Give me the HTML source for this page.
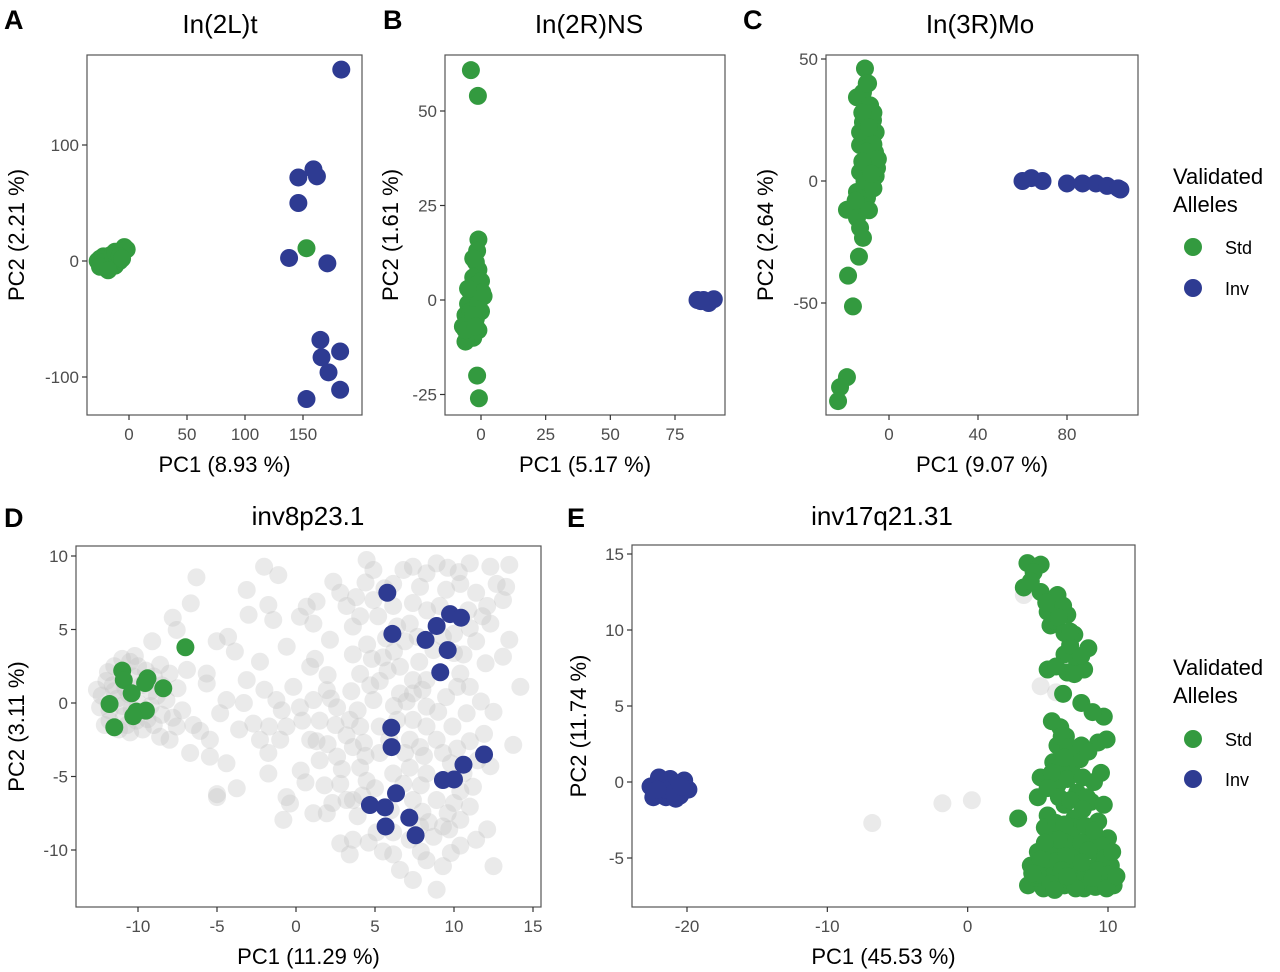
<!DOCTYPE html>
<html><head><meta charset="utf-8"><style>
html,body{margin:0;padding:0;background:#fff;}
svg{display:block;font-family:"Liberation Sans",Arial,sans-serif;}
</style></head><body>
<svg id="fig" width="1280" height="972" viewBox="0 0 1280 972" xmlns="http://www.w3.org/2000/svg">
<g font-weight="bold" font-size="27" fill="#000">
<text x="4" y="29">A</text>
<text x="383" y="29">B</text>
<text x="743" y="29">C</text>
<text x="4" y="527">D</text>
<text x="567" y="527">E</text>
</g>
<g font-size="22" fill="#000">
<text x="1173" y="184">Validated</text>
<text x="1173" y="212">Alleles</text>
<circle cx="1193" cy="247" r="9" fill="#339a3f"/>
<text x="1225" y="254" font-size="18">Std</text>
<circle cx="1193" cy="288" r="9" fill="#2e3b92"/>
<text x="1225" y="295" font-size="18">Inv</text>
</g>
<g font-size="22" fill="#000">
<text x="1173" y="675">Validated</text>
<text x="1173" y="703">Alleles</text>
<circle cx="1193" cy="739" r="9" fill="#339a3f"/>
<text x="1225" y="746" font-size="18">Std</text>
<circle cx="1193" cy="779" r="9" fill="#2e3b92"/>
<text x="1225" y="786" font-size="18">Inv</text>
</g>
</svg>
<script>
// ---- Panel A data ----
const aGreen=[[-27,0],[-25,2],[-24,-3],[-22,4],[-20,-6],[-18,1],[-16,5],[-15,-2],[-13,3],[-12,-4],[-10,6],[-8,0],[-6,8],[-4,12],[-2,10],[-20,3],[-22,-1],[-17,-4],[-14,6],[-10,2],[-25,-5],[-18,-8],[-12,8],[-8,4],[-6,2],[153,11]];
const aBlue=[[183,165],[146,72],[159,79],[162,73],[146,50],[138,2.6],[171,-2],[165,-68],[166,-83],[182,-78],[172,-96],[182,-111],[153,-119]];
// ---- Panel B data ----
const bGreen=[[-1,16],[-1.5,13],[-2,10],[-1,8],[-3,6],[0,5],[-2,3],[-4,2],[1,1],[-2,0],[-5,-1],[-3,-2],[0,-3],[-6,-4],[-2,-5],[-4,-6],[-7,-7],[-1,-8],[-5,-9],[-3,-10],[-6,-11],[-2,4],[-4,-3],[-1,-1],[-3,-4],[0.5,2],[-5,3],[-6,-8],[-2,-7],[-3,11],[-3.9,60.8],[-1.2,54],[-1.5,-20],[-0.8,-26]];
const bBlue=[[83.7,0],[86,0],[88,-0.8],[90,0.2],[85,-0.3]];
// ---- Panel C data ----
const cGreen=[[-10.8,46.1],[-9.4,40],[-14.4,34.3],[-11.7,36.3],[-8.5,31],[-7.2,24.9],[-11.7,24.1],[-8.5,18.8],[-13,14.7],[-6.3,11.8],[-9.9,7.8],[-5.4,5.3],[-13,3.7],[-8.5,-0.4],[-14.4,-4.5],[-9.9,-6.9],[-18.9,-11.8],[-14.4,-15.1],[-13,-19.2],[-11.7,-23.3],[-13.5,-31],[-18.4,-38.8],[-16.2,-51.4],[-18.9,-80.4],[-22,-84.5],[-22.9,-90.2],[-7,28],[-12,28],[-6,20],[-11,16],[-7,15],[-10,12],[-5,9],[-12,8],[-6,2],[-11,0],[-7,-3],[-12,-10],[-9,-12],[-15,-8],[-8,3],[-13,20],[-9,22],[-10,40]];
const cBlue=[[60,0],[64,1.2],[69,0],[80,-1],[87,-1],[93,-1],[98,-2],[103,-3],[104,-3.5]];
// ---- Panel D data ----
const dGray=[[-12,1.5],[-12.3,0.5],[-11.8,-0.5],[-11.5,2.5],[-11,3],[-10.5,2.8],[-10,2.5],[-9.5,2.2],[-9,1.8],[-8.5,1.2],[-8.2,0.2],[-8.5,-0.8],[-9,-1.5],[-9.7,-1.8],[-10.5,-2],[-11.2,-1.8],[-11.8,-1.2],[-12.4,-0.3],[-10.8,1],[-10,0],[-9.5,-0.5],[-11,-0.2],[-10.3,1.8],[-9.2,0.8],[-8,2],[-7.5,1],[-7.8,-1],[-7.2,-0.5],[-11.6,1.2],[-10.1,-1.2],
[-11.3,0.3],[-10.6,0.6],[-9.8,1.2],[-10.9,-0.9],[-12.6,0.9],[-9.2,-0.2],[-8.8,0.5],[-10.2,3.2],[-11.9,2.1],[-10.7,-1.5],[-9.4,-1.1],[-8.6,2.6],[-12.1,-1.5],[-10.4,-0.4],[-11.5,0.8],
[-6.3,8.55],[-6.66,6.78],[-7.8,5.8],[-7.55,4.97],[-9.1,4.2],[-6.9,2.25],[-5.02,4.2],[-4.3,4.5],[-3.87,3.5],[-5.65,1.33],[-2.28,2.81],[-3.12,7.69],[-3,6],[-2.02,9.27],[-1.12,8.7],[-1.75,6.67],[-1.44,5.65],[-0.59,3.83],[2.36,8.25],[0.25,5.87],[0.68,6.55],[1.3,6.9],[1.1,5.4],[2.15,4.3],[0.9,2.47],[1.2,3],[4.47,9.73],[4.9,9.05],[6.8,9.05],[7.4,9.27],[8.26,8.82],[8.9,9.5],[11,9.5],[12.3,9.27],[13.5,9.4],[13.3,7.9],[13.1,7],[12.3,5.4],[13.5,4.3],[13.1,3.15],[14.2,1.1],[13.75,-2.85],[12.5,-11.1],[11.4,-9.3],[12.1,-8.6],[8.9,-12.7],[7.4,-12.04],[6.58,-11.36],[6.15,-10.3],[9.3,-11.1],[8.26,-10.7],[3.4,-10.3],[2.8,-9.55],[1.1,-7.5],[-0.8,-7.95],[-0.38,-6.84],[-5,-6.4],[-3.75,-5.8],[-4.4,-4.1],[-1.75,-3.4],[-1.75,-4.8],[-5.45,-3.65],[-6.7,-3.4],[-8,-2.5],[-8.6,-2.3],[-6.5,-1.5],[-5.45,-2.5],[-4.8,-0.7],[-4.4,0.2],[-3.3,0],[-2.7,-1.4],[-1.7,-1.6],[-1.24,0.2],[-0.17,1.1],[1.1,0.2],[1.95,0.88],[2.6,-0.3],[3.4,-1.15],[4.06,-1.6],[3.6,-3],[1.5,-3.9],[2.6,-3.65],[0.9,-2.5],[4.06,-4.4],[4.47,-5.3],[2.8,-5.5],[3.2,-6.6],[3.9,-7.7],[5.1,-8.8],[7.85,-8.4],[8.7,-9.1],[9.3,-8.4],[10.4,-7.95],[11,-7.05],[11.2,-5.7],[10.6,-4.8],[11,-2.6],[11.9,-2.1],[10.8,-0.7],[10.2,1.1],[11,1.1],[9.5,0.4],[8.26,-0.25],[7.4,-1.15],[8.9,-2.5],[7.85,-3],[7.2,-4.4],[8.26,-4.8],[8.9,-6.6],[7.4,-6.6],[10,-6.8],[6.15,-4.8],[5.3,-3.4],[5.3,-1.6],[4.9,0.2],[5.3,1.5],[4.06,1.98],[3.6,3.3],[4.5,3.98],[5.5,3.1],[6.58,2.47],[7.4,1.56],[8.26,1.56],[10.4,2],[10.6,3.3],[11.4,4.2],[11,5.1],[10,4.7],[7.2,5.4],[7.4,6.8],[6.15,6.6],[4.9,7],[4.06,5.9],[3.2,6.6],[3.6,5.2],[6.15,8.1],[7.85,7.9],[9.5,7.7],[10.4,8.1],[11.4,7.5],[12.1,6.6],[10,3.4],[6.9,4.2],[5.7,4.4],[6.58,0.65],[8.26,-1.6],[7.2,-2.5],[5.9,-2.5],[1.5,-1.2],[0.25,-0.3],[-0.6,-1.6],[-1,-2.5],[-2.28,-2.5],[-3.12,1.56],[-5.65,2],[-6.07,-1.9],[-7.55,-1.6],[-5,-6.2],[-0.6,-6.4],[1.95,-7.5],[9.7,-8.6],[10.4,-9.7],[7.2,-9.3],[6.15,-8.8],[3.6,-9.3],[3.6,-6.6],[8.1,-3.6],[9.5,-5.2],[10.4,-6],[9.3,-3.4],[6.4,-1.15],[7.4,0.65],
[2.5,-1.5],[3.2,-2.2],[2.0,-2.8],[3.9,-0.5],[4.3,-2.7],[2.9,-4.5],[1.3,-2.6],[0.4,-1.2],[2.2,0.3],[3.5,0.8],[4.4,-3.6],[5.0,-5.8],[4.2,-6.3],[6.8,-5.5],[7.9,-5.6],[6.0,-7.3],[8.0,-7.4],[9.6,-7.5],[8.4,-8.1],[4.6,-9.5],[5.5,-10.1],[7.9,-10.1],[9.8,-10.2],[6.9,-3.4],[6.2,-0.2],[7.0,0.1],[8.0,0.9],[9.0,-0.6],[9.9,-1.6],[10.2,-3.1],[9.8,-4.1],[11.5,-3.9],[12.3,-4.3],[4.7,1.2],[5.8,2.2],[7.8,2.8],[8.7,3.6],[9.3,4.5],[7.7,4.5],[6.4,5.2],[5.2,5.9],[8.3,6.3],[9.1,6.6],[10.9,6.3],[11.8,5.9],[12.7,8.1],[10.3,8.9],[9.6,9.2],[5.6,7.8],[4.4,8.2],[3.8,7.2],[2.8,7.5],[12.0,2.7],[12.5,-0.6],[11.7,0.1],[4.8,3.0],[6.2,3.5],[2.0,1.9],[-0.9,-0.5],[-2.0,0.9],[-3.6,-1.8],[0.3,-4.6],[1.8,-5.6],[2.3,-6.8],[0.6,-5.4]];
const dGreen=[[-11,2.2],[-10.9,1.56],[-9.4,1.68],[-9.55,1.36],[-8.4,1],[-10.4,0.66],[-11.8,-0.07],[-10.1,-0.59],[-9.5,-0.52],[-10.3,-0.9],[-11.5,-1.65],[-7,3.79]];
const dBlue=[[5.78,7.5],[6.1,4.7],[8.9,5.24],[8.2,4.29],[9.75,6.05],[10.44,5.8],[9.6,3.6],[9.13,2.09],[6.03,-1.68],[6.05,-3],[11.9,-3.5],[10.6,-4.2],[9.3,-5.24],[10,-5.2],[6.33,-6.14],[4.68,-6.94],[5.63,-7.1],[5.67,-8.4],[7.17,-7.8],[7.57,-9]];
// ---- Panel E data ----
const eGray=[[-6.8,-2.7],[-1.8,-1.4],[0.3,-1.2],[4,12.3],[5.2,6.3],[6.3,5.9]];
const eGreen=[[4.26,14.4],[5.2,14.3],[4,12.8],[5.2,12.5],[6.4,12.3],[5.7,11.2],[7.1,11],[5.9,10.3],[7.6,9.7],[8.6,8.8],[6.9,8.4],[7.8,7.9],[5.7,7.4],[7.1,7.2],[8.3,7.4],[8.1,5.2],[9.7,4.3],[8.9,4.6],[6.6,3.6],[9.3,2.6],[9.9,2.8],[6.4,2.4],[7.6,2],[6.1,1.3],[7.4,0.7],[9.5,0.6],[5.2,0.3],[6.4,-0.2],[7.8,-0.7],[5,-1],[6.9,-1.5],[8.8,-1.3],[9.7,-1.5],[3.6,-2.4],[5.7,-2.2],[7.6,-2.4],[9.3,-2.6],[5.9,-3.5],[7.4,-3.7],[8.8,-3.5],[10,-3.7],[5,-4.6],[6.4,-4.6],[7.8,-4.8],[9.3,-4.8],[4.5,-5.5],[5.9,-5.7],[7.4,-5.5],[8.8,-5.7],[10.2,-5.5],[4.3,-6.8],[5.4,-7],[6.9,-6.8],[8.3,-7],[9.7,-6.6],[10.4,-6.8],[5.5,-3],[6.5,-1],[7,-4],[8,-6],[9,-5.9],[6,-6.2],[4.8,-6.3],[7.5,-6.5],[6.6,1],[7,3],[8.5,-1],[9,0],[8,1.5],[6,4],[7.6,-3],[5.8,-4.3],[6.3,-5.2],[8.7,-6.6],[9.5,-6.2],[6.8,5.8],[7.3,9],[6.2,10.6],
[4.7,13.8],[4.5,13.2],[5.6,11.8],[6.8,11.6],[6.5,10.8],[6.9,9.8],[7.3,9.9],[8.1,8.3],[6.3,7.6],[7.6,7.1],[6.7,3.0],[7.2,2.3],[8.1,2.4],[8.6,2.0],[6.9,1.6],[7.1,0.2],[8.2,0.3],[6.0,0.6],[5.7,-0.4],[7.3,-1.2],[8.2,-1.8],[6.3,-2.7],[6.9,-2.8],[8.4,-2.9],[9.0,-3.2],[6.5,-3.8],[8.1,-4.0],[9.6,-4.2],[5.5,-4.0],[7.0,-4.9],[8.6,-4.5],[9.8,-5.0],[5.2,-5.1],[6.7,-5.8],[8.1,-5.3],[9.3,-5.8],[10.0,-6.1],[5.0,-6.1],[5.9,-6.7],[7.7,-7.0],[9.1,-6.9],[4.6,-6.0],[6.2,-7.1],[7.1,-6.2],[8.9,-6.3],[9.9,-7.0],[10.6,-6.2],[10.3,-4.6]];
const eBlue=[[-22.6,-0.3],[-22.2,-0.8],[-21.8,0],[-21.5,-1],[-21,-0.4],[-20.5,-0.9],[-20.2,0.1],[-19.9,-0.5],[-22.4,-1],[-21.2,0.2],[-20.8,-1.1],[-22,0.3],[-21.6,-0.5],[-20.9,-0.7],[-22.1,-0.5],[-20.4,-0.3]];
// tick label arrays
const aXTicks=[0,50,100,150], aYTicks=[-100,0,100];
const bXTicks=[0,25,50,75], bYTicks=[-25,0,25,50];
const cXTicks=[0,40,80], cYTicks=[-50,0,50];
const dXTicks=[-10,-5,0,5,10,15], dYTicks=[-10,-5,0,5,10];
const eXTicks=[-20,-10,0,10], eYTicks=[-5,0,5,10,15];

const NS="http://www.w3.org/2000/svg";
const svg=document.getElementById('fig');
function mk(tag,attrs,parent){const e=document.createElementNS(NS,tag);for(const k in attrs)e.setAttribute(k,attrs[k]);(parent||svg).appendChild(e);return e;}
function lin(d0,d1,r0,r1){return v=>r0+(v-d0)*(r1-r0)/(d1-d0);}

function panel(cfg){
  const g=mk('g',{});
  
  
  const sx=lin(cfg.xd[0],cfg.xd[1],cfg.xr[0],cfg.xr[1]);
  const sy=lin(cfg.yd[0],cfg.yd[1],cfg.yr[0],cfg.yr[1]);
  const [L,T,R,B]=cfg.box;
  const clipId='clip-'+cfg.name;
  const cp=mk('clipPath',{id:clipId},g);mk('rect',{x:L,y:T,width:R-L,height:B-T},cp);
  const pts=mk('g',{'clip-path':'url(#'+clipId+')'},g);
  
  
  function draw(arr,fill,op,nm){arr.forEach(p=>{const c=mk('circle',{cx:sx(p[0]),cy:sy(p[1]),r:9,fill:fill,'fill-opacity':op},pts);
    
    });}
  if(cfg.gray)draw(cfg.gray,'#c4c4c4',0.35,'point-unvalidated');
  draw(cfg.green,'#339a3f',1,'point-std');
  draw(cfg.blue,'#2e3b92',1,'point-inv');
  const fr=mk('rect',{x:L,y:T,width:R-L,height:B-T,fill:'none',stroke:'#555','stroke-width':1.2},g);
  
  
  cfg.xt.forEach(v=>{const x=sx(v);mk('line',{x1:x,x2:x,y1:B,y2:B+5,stroke:'#333','stroke-width':1.2},g);
    const t=mk('text',{x:x,y:B+25,'text-anchor':'middle','font-size':17,fill:'#4d4d4d'},g);t.textContent=v;
    
    });
  cfg.yt.forEach(v=>{const y=sy(v);mk('line',{x1:L-5,x2:L,y1:y,y2:y,stroke:'#333','stroke-width':1.2},g);
    const t=mk('text',{x:L-8,y:y+6,'text-anchor':'end','font-size':17,fill:'#4d4d4d'},g);t.textContent=v;
    
    });
  const xt=mk('text',{x:(L+R)/2,y:B+57,'text-anchor':'middle','font-size':22,fill:'#000'},g);xt.textContent=cfg.xlab;
  
  
  const yx=cfg.ylx, yc=(T+B)/2;
  const yt=mk('text',{x:yx,y:yc,'text-anchor':'middle','font-size':22,fill:'#000',transform:'rotate(-90 '+yx+' '+yc+')'},g);yt.textContent=cfg.ylab;
  
  
  const tt=mk('text',{x:cfg.tx,y:cfg.ty,'text-anchor':'middle','font-size':26,fill:'#000'},g);tt.textContent=cfg.title;
  
  
}
panel({name:'panel-a',box:[87,55,362,415],xd:[0,150],xr:[129,303],yd:[0,100],yr:[261,145],xt:aXTicks,yt:aYTicks,green:aGreen,blue:aBlue,xlab:'PC1 (8.93 %)',ylab:'PC2 (2.21 %)',ylx:24,title:'In(2L)t',tx:220,ty:33});
panel({name:'panel-b',box:[445,55,725,415],xd:[0,75],xr:[481,675],yd:[0,50],yr:[300,111],xt:bXTicks,yt:bYTicks,green:bGreen,blue:bBlue,xlab:'PC1 (5.17 %)',ylab:'PC2 (1.61 %)',ylx:398,title:'In(2R)NS',tx:589,ty:33});
panel({name:'panel-c',box:[826,55,1138,415],xd:[0,80],xr:[889,1067],yd:[0,50],yr:[181,59],xt:cXTicks,yt:cYTicks,green:cGreen,blue:cBlue,xlab:'PC1 (9.07 %)',ylab:'PC2 (2.64 %)',ylx:773,title:'In(3R)Mo',tx:980,ty:33});
panel({name:'panel-d',box:[76,546,541,907],xd:[-10,10],xr:[138,454],yd:[0,10],yr:[703,556],xt:dXTicks,yt:dYTicks,gray:dGray,green:dGreen,blue:dBlue,xlab:'PC1 (11.29 %)',ylab:'PC2 (3.11 %)',ylx:24,title:'inv8p23.1',tx:308,ty:525});
panel({name:'panel-e',box:[632,545,1135,907],xd:[-20,10],xr:[687,1108],yd:[0,15],yr:[782,554],xt:eXTicks,yt:eYTicks,gray:eGray,green:eGreen,blue:eBlue,xlab:'PC1 (45.53 %)',ylab:'PC2 (11.74 %)',ylx:586,title:'inv17q21.31',tx:882,ty:525});
</script>
</body></html>
